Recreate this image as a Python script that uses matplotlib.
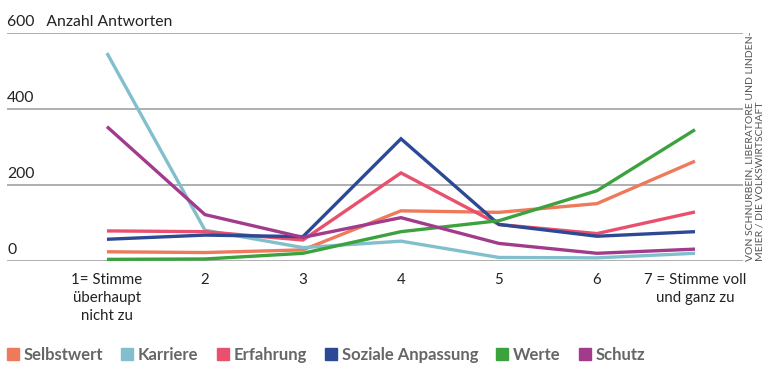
import matplotlib
matplotlib.use("Agg")
import matplotlib.pyplot as plt
from matplotlib.lines import Line2D

plt.rcParams['font.family'] = ['Lato', 'DejaVu Sans']

# answer scale 1..7
scale = [1, 2, 3, 4, 5, 6, 7]
tick_labels = ['1= Stimme\nüberhaupt\nnicht zu', '2', '3', '4', '5', '6',
               '7 = Stimme voll\nund ganz zu']

selbstwert = [23, 21, 28, 131, 127, 150, 262]
karriere = [547, 80, 34, 51, 8, 7, 19]
erfahrung = [78, 76, 54, 231, 95, 71, 128]
soziale_anpassung = [56, 67, 63, 321, 95, 64, 76]
werte = [3, 4, 19, 76, 105, 184, 345]
schutz = [353, 121, 61, 113, 45, 19, 30]

series_names = ['Selbstwert', 'Karriere', 'Erfahrung', 'Soziale Anpassung',
                'Werte', 'Schutz']
series_values = [selbstwert, karriere, erfahrung, soziale_anpassung, werte,
                 schutz]
colors = ['#ee7a5c', '#82bfcd', '#e8506e', '#2b4994', '#3ba23d', '#a23b8b']

y_ticks = [0, 200, 400, 600]
y_labels = ['0', '200', '400', '600   Anzahl Antworten']

fig = plt.figure(figsize=(7.68, 3.65), dpi=100)
ax = fig.add_axes([7 / 768, 1 - 260.5 / 365, 736 / 768, 227.5 / 365])

for name, vals, col in zip(series_names, series_values, colors):
    ax.plot(scale, vals, color=col, lw=2.4, solid_joinstyle='miter',
            solid_capstyle='butt', zorder=3)

ax.set_xlim(-0.02, 7.49)
ax.set_ylim(0, 600)
for s in ax.spines.values():
    s.set_visible(False)
ax.set_yticks([])
ax.set_xticks(scale)
ax.set_xticklabels(tick_labels, fontsize=10.8, color='#222222',
                   linespacing=1.35)
ax.tick_params(axis='x', length=0, pad=9)
for yt, lab in zip(y_ticks, y_labels):
    ax.axhline(yt, color='#999999', lw=1.1, zorder=1)
    ax.text(-0.02, yt + 10, lab, fontsize=11.3, color='#222222',
            ha='left', va='bottom')

fig.text(746 / 768, 1 - 261 / 365,
         'VON SCHNURBEIN, LIBERATORE UND LINDEN-\nMEIER / DIE VOLKSWIRTSCHAFT',
         rotation=90, fontsize=7.5, color='#555555', ha='left', va='bottom',
         multialignment='left', linespacing=1.1)

handles = [Line2D([], [], marker='s', ls='', color=c, markersize=8.5)
           for c in colors]
fig.legend(handles, series_names, loc='center left',
           bbox_to_anchor=(0.0, 1 - 355 / 365), ncol=6, frameon=False,
           handletextpad=0.2, columnspacing=1.0, handlelength=0.9,
           prop={'weight': 'bold', 'size': 12}, labelcolor='#666666',
           borderaxespad=0, borderpad=0.3)

fig.savefig('out.png', dpi=100)
